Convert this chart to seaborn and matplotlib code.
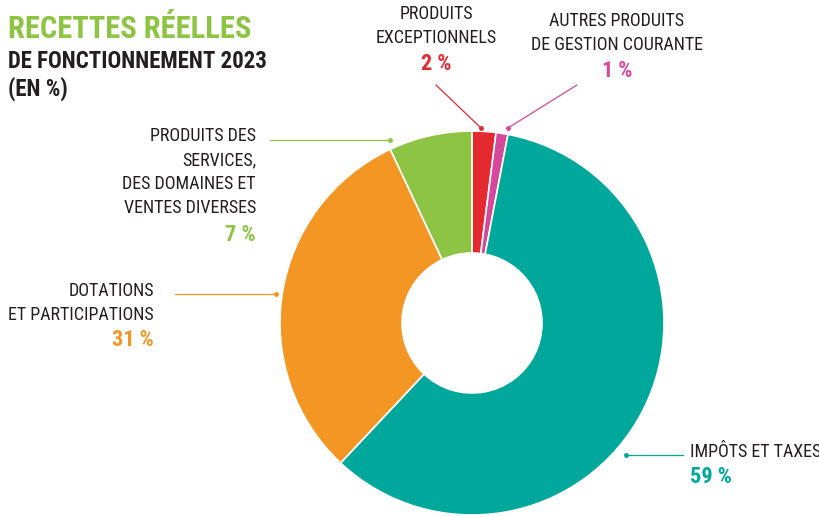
import matplotlib
matplotlib.use("Agg")
import matplotlib.pyplot as plt
import seaborn as sns

# Données : recettes réelles de fonctionnement 2023 (en %)
categories = [
    "PRODUITS\nEXCEPTIONNELS",
    "AUTRES PRODUITS\nDE GESTION COURANTE",
    "IMPÔTS ET TAXES",
    "DOTATIONS\nET PARTICIPATIONS",
    "PRODUITS DES\nSERVICES,\nDES DOMAINES ET\nVENTES DIVERSES",
]
values = [2, 1, 59, 31, 7]
pct_labels = ["2 %", "1 %", "59 %", "31 %", "7 %"]
colors = ["#E42A30", "#D6489B", "#00A89C", "#F39624", "#8DC444"]

sns.set_theme(style="white")
FONT = ["Roboto Condensed", "Archivo Narrow", "Sofia Sans Condensed", "DejaVu Sans"]
plt.rcParams["font.family"] = FONT
DARK = "#231F20"

W, H = 820, 517
fig = plt.figure(figsize=(W / 100, H / 100), dpi=100)
ax = fig.add_axes([0, 0, 1, 1])

cx, cy, r_out, r_in = 472, H - 323, 192, 70
ax.pie(values, colors=sns.color_palette(colors), startangle=90, counterclock=False,
       center=(cx, cy), radius=r_out,
       wedgeprops=dict(width=r_out - r_in, edgecolor="white", linewidth=1.2))
ax.set_xlim(0, W)
ax.set_ylim(0, H)
ax.set_aspect("equal")
ax.axis("off")

def y(v):
    return H - v

# Titre
ax.text(8, y(38), "RECETTES RÉELLES", color="#8DC444", fontsize=22, fontweight="bold")
ax.text(8, y(68), "DE FONCTIONNEMENT 2023", color=DARK, fontsize=16.5, fontweight="bold")
ax.text(8, y(96), "(EN %)", color=DARK, fontsize=16.5, fontweight="bold")

lab_fs = 13
pct_fs = 16
PITCH = 24.5

def label(x, ytop, text, pct, color, ha):
    ax.text(x, y(ytop), text, ha=ha, va="top", fontsize=lab_fs, color=DARK,
            linespacing=1.42)
    nlines = text.count("\n") + 1
    ax.text(x, y(ytop + (nlines - 1) * PITCH + 23), pct, ha=ha, va="top",
            fontsize=pct_fs, color=color, fontweight="bold")

def leader(x0, y0, x1, y1, color, dot_at_end=True):
    ax.plot([x0, x1], [y(y0), y(y1)], color=color, lw=0.9)
    dx, dy = (x1, y1) if dot_at_end else (x0, y0)
    ax.plot([dx], [y(dy)], marker="o", ms=2.5, color=color)

label(436, 5, categories[0], pct_labels[0], colors[0], "center")
leader(436, 85, 481, 128, colors[0])
label(617, 12, categories[1], pct_labels[1], colors[1], "center")
leader(577, 85, 508, 128, colors[1])
label(690, 443, categories[2], pct_labels[2], colors[2], "left")
leader(626, 455, 683, 455, colors[2], dot_at_end=False)
label(154, 282, categories[3], pct_labels[3], colors[3], "right")
leader(175, 294, 276, 294, colors[3])
label(256, 127, categories[4], pct_labels[4], colors[4], "right")
leader(270, 140, 390, 140, colors[4])

fig.savefig("out.png", dpi=100)
